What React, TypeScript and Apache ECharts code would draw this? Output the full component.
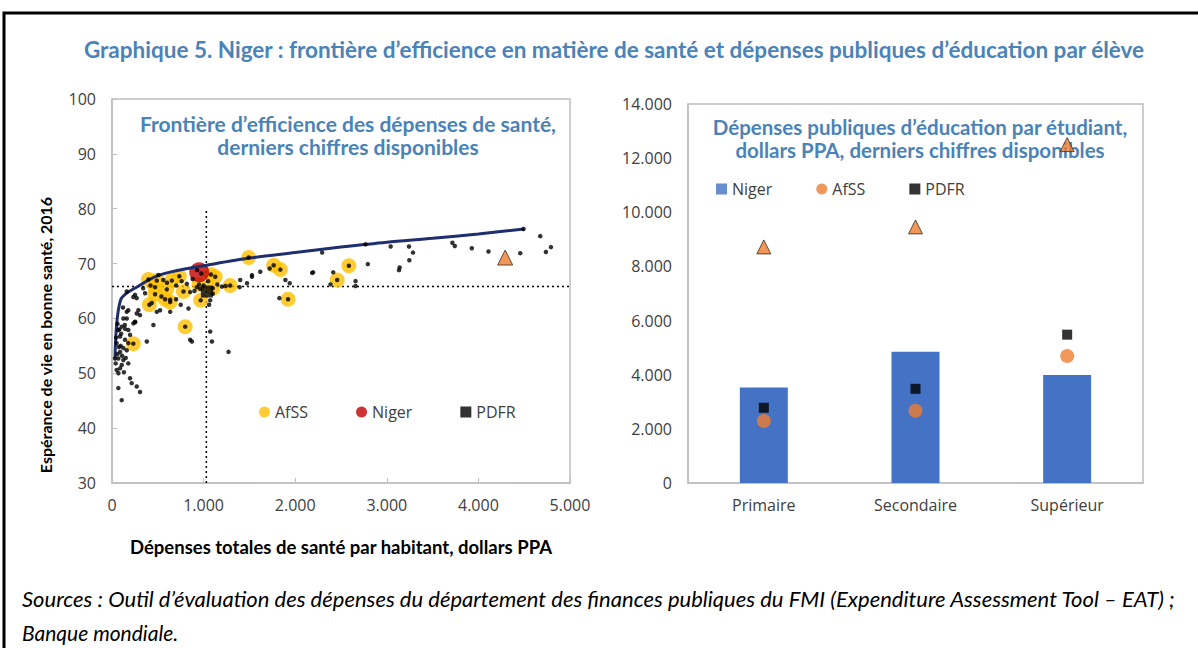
import React, { useEffect, useRef } from "react";
import * as echarts from "echarts";

// ---------- Données : graphique de gauche ----------
const frontiere: number[][] = [
  [33, 52.7], [95, 63.4], [300, 66.0], [500, 67.8], [700, 68.7], [1000, 69.6],
  [1500, 71.0], [2000, 72.0], [2500, 73.0], [3000, 73.9], [3500, 74.6],
  [4000, 75.4], [4500, 76.3],
];
const autresPays: number[][] = [
  [161, 64.9], [252, 64.3], [270, 63.7], [161, 61.2], [288, 61.5], [270, 60.9], [361, 64.6],
  [434, 62.8], [525, 61.5], [489, 61.2], [635, 61.2], [124, 60.0], [233, 59.1], [252, 59.4],
  [452, 58.8], [106, 58.5], [69, 57.9], [178, 57.9], [197, 57.0], [88, 56.7], [380, 55.8],
  [142, 56.1], [178, 55.5], [124, 54.6], [161, 54.2], [88, 53.9], [33, 52.7], [69, 52.7],
  [124, 52.4], [178, 51.8], [106, 51.5], [88, 50.9], [51, 50.6], [197, 49.1], [215, 48.2],
  [270, 47.6], [306, 46.6], [69, 47.3], [106, 45.1], [872, 55.8],
  [60, 59.0], [80, 58.0], [50, 55.5], [75, 54.8], [95, 55.0], [60, 53.5], [40, 51.8],
  [110, 53.2], [130, 50.2], [70, 50.0], [150, 52.8], [45, 56.5], [100, 57.2], [120, 62.0],
  [140, 58.8], [1072, 57.6], [1091, 55.8], [1272, 53.9], [853, 56.1], [635, 63.4],
  [507, 67.9], [817, 66.3], [853, 64.8], [926, 65.7], [963, 65.4], [1072, 63.3], [233, 63.9],
  [178, 61.5], [306, 60.6], [161, 60.0], [252, 59.3], [142, 58.1], [835, 61.8], [600, 66.5],
  [700, 66.0], [760, 66.8], [880, 67.2], [900, 65.0], [1000, 66.0], [1050, 66.8], [1100, 64.5],
  [1150, 66.2], [930, 68.8], [975, 68.2], [560, 67.0], [420, 66.0], [340, 65.5], [1200, 65.8],
  [1240, 65.9], [1060, 62.5], [540, 64.0], [700, 63.5], [750, 62.5],
  [2294, 72.0], [2768, 73.5], [3042, 73.1], [3242, 73.1], [3286, 72.0], [3716, 73.8],
  [3742, 73.2], [3928, 72.8], [4110, 72.2], [4457, 71.9], [4675, 75.0], [4737, 72.1],
  [4792, 73.0], [4493, 76.3], [2196, 68.4], [2415, 68.4], [2793, 69.9], [3133, 68.8],
  [3140, 69.3], [3246, 70.6], [2659, 66.8], [2659, 65.9], [2385, 66.2], [1893, 67.0],
  [1940, 66.4], [1619, 68.5], [1721, 69.1], [1528, 67.9], [1827, 63.7], [1474, 66.4],
  [1528, 67.6], [1393, 65.7], [2185, 68.3], [1400, 67.0],
];
const afssPays: number[][] = [
  [233, 55.4], [397, 67.1], [408, 62.5], [470, 65.7], [489, 66.9], [470, 64.4], [580, 63.5],
  [598, 65.3], [635, 63.0], [653, 66.9], [735, 67.7], [780, 64.9], [799, 58.5], [950, 66.2],
  [968, 63.3], [1080, 68.0], [1127, 67.6], [1100, 65.5], [1290, 66.0], [1492, 71.1],
  [1765, 69.7], [1838, 68.9], [1922, 63.5], [2458, 67.0], [2586, 69.6],
];
const nigerSante: number[][] = [[952, 68.4]];
const pdfrSante: number[][] = [[1036, 64.9]];
const referenceSante: number[][] = [[4292, 71.1]];
const seuilDepense = 1030;
const seuilEsperance = 65.8;
const ligneVerticale: number[][] = [[seuilDepense, 30], [seuilDepense, 80]];
const ligneHorizontale: number[][] = [[0, seuilEsperance], [5000, seuilEsperance]];

// ---------- Données : graphique de droite ----------
const niveaux = ["Primaire", "Secondaire", "Supérieur"];
const educNiger = [3530, 4850, 3990];
const educAfss = [2290, 2670, 4690];
const educPdfr = [2780, 3480, 5480];
const educReference = [8720, 9460, 12500];

const titreGeneral =
  "Graphique 5. Niger : frontière d’efficience en matière de santé et dépenses publiques d’éducation par élève";
const titreGauche = "Frontière d’efficience des dépenses de santé,\nderniers chiffres disponibles";
const titreDroite = "Dépenses publiques d’éducation par étudiant,\ndollars PPA, derniers chiffres disponibles";
const nomAxeY = "Espérance de vie en bonne santé, 2016";
const sources1 =
  "Sources : Outil d’évaluation des dépenses du département des finances publiques du FMI (Expenditure Assessment Tool – EAT) ;";
const sources2 = "Banque mondiale.";

const BLEU_TITRE = "#4a83b8";
const TXT = "#404040";
const BOLD_FONT = "Lato, 'Open Sans', sans-serif";
const LABEL_FONT = "'Open Sans', 'Noto Sans', sans-serif";

const fmt = (v: number) =>
  v === 0 ? "0" : String(v).replace(/\B(?=(\d{3})+(?!\d))/g, ".");

export default function App() {
  const ref = useRef<HTMLDivElement>(null);
  useEffect(() => {
    if (!ref.current) return;
    const chart = echarts.init(ref.current, undefined, { renderer: "svg" });
    const axisLineGray = { show: true, lineStyle: { color: "#bfbfbf", width: 1.5 } };
    chart.setOption({
      animation: false,
      backgroundColor: "#ffffff",
      title: [
        {
          text: titreGeneral, left: 609, top: 33, textAlign: "center",
          textStyle: { fontSize: 22.5, fontWeight: "bold", color: BLEU_TITRE, fontFamily: BOLD_FONT },
        },
        {
          text: titreGauche, left: 343, top: 107, textAlign: "center", z: 1,
          textStyle: { fontSize: 21, lineHeight: 23, fontWeight: "bold", color: BLEU_TITRE, fontFamily: BOLD_FONT },
        },
        {
          text: titreDroite, left: 915, top: 110, textAlign: "center", z: 1,
          textStyle: { fontSize: 20.5, lineHeight: 23, fontWeight: "bold", color: BLEU_TITRE, fontFamily: BOLD_FONT },
        },
      ],
      legend: [
        {
          left: 254, top: 399, itemGap: 48, itemWidth: 11, itemHeight: 11,
          textStyle: { fontSize: 16, color: TXT, fontFamily: LABEL_FONT },
          data: [
            { name: "AfSS", icon: "circle", itemStyle: { color: "#ffc000" } },
            { name: "Niger", icon: "circle", itemStyle: { color: "#c00000" } },
            { name: "PDFR", icon: "rect", itemStyle: { color: "#000000" } },
          ],
          selectedMode: false,
        },
        {
          left: 711, top: 176, itemGap: 44, itemWidth: 11, itemHeight: 11,
          textStyle: { fontSize: 16, color: TXT, fontFamily: LABEL_FONT },
          data: [
            { name: "Niger", icon: "rect", itemStyle: { color: "#4472c4" } },
            { name: "AfSS", icon: "circle", itemStyle: { color: "#ed7d31" } },
            { name: "PDFR", icon: "rect", itemStyle: { color: "#000000" } },
          ],
          selectedMode: false,
        },
      ],
      grid: [
        { left: 112, top: 99, width: 458, height: 384, show: true, borderColor: "#bfbfbf", borderWidth: 1.5 },
        { left: 688, top: 104, width: 455, height: 379, show: true, borderColor: "#bfbfbf", borderWidth: 1.5 },
      ],
      xAxis: [
        {
          gridIndex: 0, type: "value", min: 0, max: 5000, interval: 1000,
          name: "Dépenses totales de santé par habitant, dollars PPA",
          nameLocation: "middle", nameGap: 54,
          nameTextStyle: { fontSize: 18.5, fontWeight: "bold", color: "#000", fontFamily: BOLD_FONT },
          axisLine: axisLineGray,
          axisTick: { show: true, inside: true, length: 5, lineStyle: { color: "#bfbfbf" } },
          splitLine: { show: false },
          axisLabel: { formatter: fmt, fontSize: 16, color: TXT, margin: 14, fontFamily: LABEL_FONT },
        },
        {
          gridIndex: 1, type: "category", data: niveaux,
          axisLine: axisLineGray, axisTick: { show: false },
          axisLabel: { fontSize: 16, color: TXT, margin: 14, fontFamily: LABEL_FONT },
        },
      ],
      yAxis: [
        {
          gridIndex: 0, type: "value", min: 30, max: 100, interval: 10,
          axisLine: axisLineGray,
          axisTick: { show: true, inside: true, length: 5, lineStyle: { color: "#bfbfbf" } },
          splitLine: { show: false },
          axisLabel: { fontSize: 16, color: TXT, margin: 16, fontFamily: LABEL_FONT },
        },
        {
          gridIndex: 1, type: "value", min: 0, max: 14000, interval: 2000,
          axisLine: axisLineGray, axisTick: { show: false }, splitLine: { show: false },
          axisLabel: { formatter: fmt, fontSize: 16, color: TXT, margin: 16, fontFamily: LABEL_FONT },
        },
      ],
      series: [
        {
          name: "seuil-v", type: "line", xAxisIndex: 0, yAxisIndex: 0, data: ligneVerticale,
          symbol: "none", lineStyle: { color: "#000", width: 1.5, type: [2, 3] }, z: 1,
        },
        {
          name: "seuil-h", type: "line", xAxisIndex: 0, yAxisIndex: 0, data: ligneHorizontale,
          symbol: "none", lineStyle: { color: "#000", width: 1.5, type: [2, 3] }, z: 1,
        },
        {
          name: "AfSS", type: "scatter", xAxisIndex: 0, yAxisIndex: 0, data: afssPays,
          symbol: "circle", symbolSize: 15, itemStyle: { color: "#ffc000" }, z: 2,
        },
        {
          name: "Niger", type: "scatter", xAxisIndex: 0, yAxisIndex: 0, data: nigerSante,
          symbol: "circle", symbolSize: 20, itemStyle: { color: "#c00000" }, z: 3,
        },
        {
          name: "frontiere", type: "line", xAxisIndex: 0, yAxisIndex: 0, data: frontiere,
          symbol: "none", smooth: 0.3, lineStyle: { color: "#1f2e6e", width: 3 }, z: 4,
        },
        {
          name: "pays", type: "scatter", xAxisIndex: 0, yAxisIndex: 0, data: autresPays,
          symbol: "circle", symbolSize: 4.5, itemStyle: { color: "#000" }, z: 5,
        },
        {
          name: "AfSS-centre", type: "scatter", xAxisIndex: 0, yAxisIndex: 0, data: afssPays,
          symbol: "circle", symbolSize: 4.5, itemStyle: { color: "#000" }, z: 5,
        },
        {
          name: "PDFR", type: "scatter", xAxisIndex: 0, yAxisIndex: 0, data: pdfrSante,
          symbol: "rect", symbolSize: 12, itemStyle: { color: "#000" }, z: 6,
        },
        {
          name: "reference-sante", type: "scatter", xAxisIndex: 0, yAxisIndex: 0, data: referenceSante,
          symbol: "triangle", symbolSize: 15,
          itemStyle: { color: "#ed7d31", borderColor: "#3a2a1a", borderWidth: 1 }, z: 6,
        },
        {
          name: "Niger", type: "bar", xAxisIndex: 1, yAxisIndex: 1, data: educNiger,
          barWidth: 48, itemStyle: { color: "#4472c4" }, z: 2,
        },
        {
          name: "AfSS", type: "scatter", xAxisIndex: 1, yAxisIndex: 1, data: educAfss,
          symbol: "circle", symbolSize: 14, itemStyle: { color: "#ed7d31" }, z: 5,
        },
        {
          name: "PDFR", type: "scatter", xAxisIndex: 1, yAxisIndex: 1, data: educPdfr,
          symbol: "rect", symbolSize: 10, itemStyle: { color: "#000" }, z: 5,
        },
        {
          name: "reference-educ", type: "scatter", xAxisIndex: 1, yAxisIndex: 1, data: educReference,
          symbol: "triangle", symbolSize: 14,
          itemStyle: { color: "#ed7d31", borderColor: "#3a2a1a", borderWidth: 1 }, z: 10,
        },
      ],
      graphic: [
        {
          type: "rect", z: 0, silent: true,
          shape: { x: 4, y: 13, width: 1250, height: 700 },
          style: { fill: "none", stroke: "#000", lineWidth: 3 },
        },
        {
          type: "text", x: 45, y: 335, rotation: Math.PI / 2,
          style: {
            text: nomAxeY, font: `bold 16px ${BOLD_FONT}`, fill: "#000",
            textAlign: "center", textVerticalAlign: "middle",
          },
        },
        {
          type: "text", left: 22, top: 587,
          style: { text: sources1, font: `italic 22px ${BOLD_FONT}`, fill: "#000" },
        },
        {
          type: "text", left: 22, top: 622,
          style: { text: sources2, font: `italic 21px ${BOLD_FONT}`, fill: "#000" },
        },
      ],
    });
    return () => chart.dispose();
  }, []);
  return (
    <div
      ref={ref}
      style={{ position: "absolute", left: 0, top: 0, width: 1198, height: 648, background: "#fff" }}
    />
  );
}
